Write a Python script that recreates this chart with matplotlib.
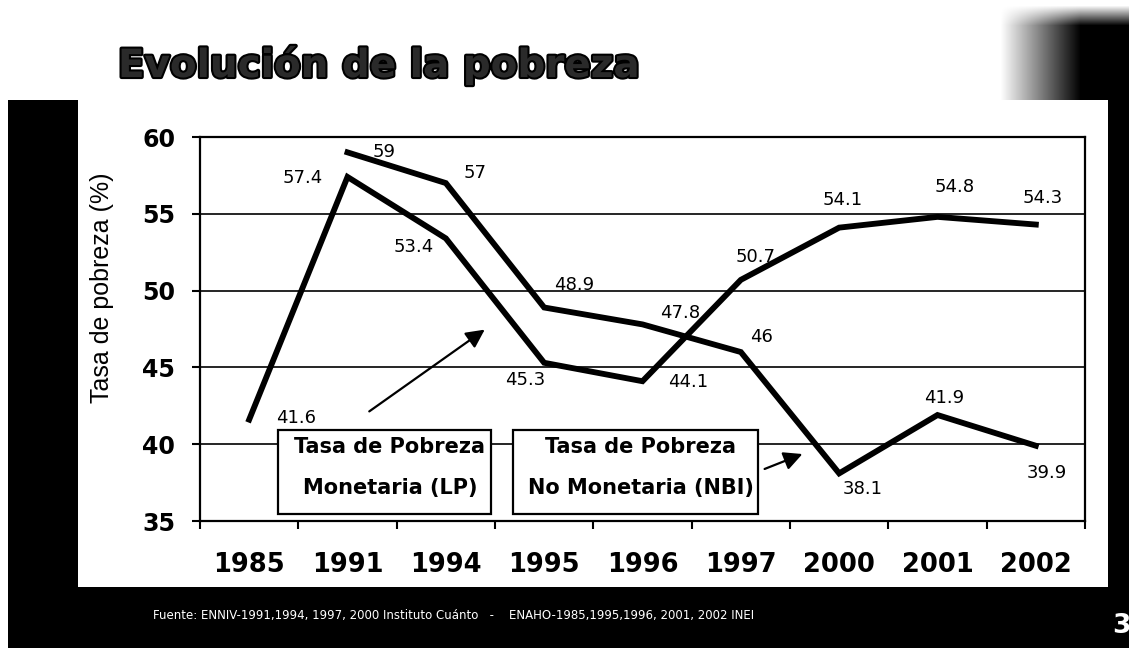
import matplotlib.pyplot as plt
import matplotlib.patheffects as pe
from matplotlib.patches import Rectangle
import numpy as np

# Data
years = ["1985", "1991", "1994", "1995", "1996", "1997", "2000", "2001", "2002"]
pobreza_lp = [41.6, 57.4, 53.4, 45.3, 44.1, 50.7, 54.1, 54.8, 54.3]
pobreza_nbi = [np.nan, 59, 57, 48.9, 47.8, 46, 38.1, 41.9, 39.9]
labels_lp = ["41.6", "57.4", "53.4", "45.3", "44.1", "50.7", "54.1", "54.8", "54.3"]
labels_nbi = ["", "59", "57", "48.9", "47.8", "46", "38.1", "41.9", "39.9"]

# label offsets (pixels)
off_lp = [(47, 2), (-45, -1), (-32, -9), (-19, -17), (46, -1), (15, 23), (3, 28), (17, 30), (7, 27)]
off_nbi = [None, (37, 0), (29, 10), (30, 22), (38, 11), (21, 15), (24, -16), (7, 17), (11, -27)]

W, H = 1129, 648
fig = plt.figure(figsize=(W / 100, H / 100), dpi=100)
fig.patch.set_facecolor("white")

# slide background: black panel with white inner area
fig.add_artist(Rectangle((8 / W, 0), 1 - 8 / W, 1 - 100 / H, transform=fig.transFigure,
                         facecolor="black", edgecolor="none", zorder=0))
fig.add_artist(Rectangle((78 / W, 1 - 587 / H), (1108 - 78) / W, (587 - 100) / H,
                         transform=fig.transFigure, facecolor="white", edgecolor="none", zorder=0))

# dark smudge at the top right
gx = np.clip((np.arange(139) - 10) / 80, 0, 1)
gy = np.clip((np.arange(100) - 5) / 20, 0, 1)
alpha = np.outer(gy, gx)
img = np.zeros((100, 139, 4))
img[..., 3] = alpha
sm = fig.add_axes([990 / W, 1 - 100 / H, 139 / W, 100 / H])
sm.imshow(img, aspect="auto", interpolation="nearest")
sm.axis("off")

# title
fig.text(118 / W, 1 - 77 / H, "Evolución de la pobreza", fontsize=28, fontweight="bold",
         family="DejaVu Sans", color="#2a2a2a", va="baseline",
         path_effects=[pe.withStroke(linewidth=3, foreground="black")])

ax = fig.add_axes([200 / W, 1 - 521 / H, 885 / W, 384 / H])
x = np.arange(len(years))

ax.plot(x, pobreza_lp, color="black", lw=4.2, solid_joinstyle="miter", zorder=4)
ax.plot(x, pobreza_nbi, color="black", lw=4.2, solid_joinstyle="miter", zorder=4)

for i in range(len(years)):
    ax.annotate(labels_lp[i], (x[i], pobreza_lp[i]), xytext=off_lp[i], textcoords="offset pixels",
                ha="center", va="center", fontsize=13, zorder=5)
    if labels_nbi[i]:
        ax.annotate(labels_nbi[i], (x[i], pobreza_nbi[i]), xytext=off_nbi[i],
                    textcoords="offset pixels", ha="center", va="center", fontsize=13, zorder=5)

ax.set_xlim(-0.5, len(years) - 0.5)
ax.set_ylim(35, 60)
ax.set_yticks([35, 40, 45, 50, 55, 60])
ax.yaxis.grid(True, color="black", lw=1.2)
ax.set_axisbelow(True)
ax.set_xticks(x)
ax.set_xticklabels(years, fontsize=18.5, fontweight="bold")
ax.set_xticks(np.arange(-0.5, len(years)), minor=True)
ax.tick_params(axis="x", which="major", length=0, pad=22)
ax.tick_params(axis="x", which="minor", length=6, width=1.5, direction="out")
ax.tick_params(axis="y", length=6, width=1.5, pad=12, labelsize=17)
for lab in ax.get_yticklabels():
    lab.set_fontweight("bold")
for s in ax.spines.values():
    s.set_linewidth(1.6)

ax.set_ylabel("Tasa de pobreza (%)", fontsize=18, family="Liberation Sans")
ax.yaxis.set_label_coords((114 - 200) / 885, (521 - 288) / 384)

# legend boxes
def fx(px):
    return (px - 200) / 885

def fy(py):
    return (521 - py) / 384

for x0, x1, l1, l2 in [(278, 491, "Tasa de Pobreza", "Monetaria (LP)"),
                       (513, 758, "Tasa de Pobreza", "No Monetaria (NBI)")]:
    ax.add_patch(Rectangle((fx(x0), fy(514)), fx(x1) - fx(x0), fy(430) - fy(514),
                           transform=ax.transAxes, facecolor="white", edgecolor="black",
                           lw=1.6, zorder=3))
    cx = (fx(x0) + fx(x1)) / 2 + 0.006
    ax.text(cx, fy(447), l1, transform=ax.transAxes, ha="center", va="center",
            fontsize=15, fontweight="bold", zorder=6)
    ax.text(cx, fy(488), l2, transform=ax.transAxes, ha="center", va="center",
            fontsize=15, fontweight="bold", zorder=6)

# arrows
arrow = dict(arrowstyle="-|>", color="black", lw=1.6, mutation_scale=28)
ax.annotate("", xy=(fx(487), fy(328)), xytext=(fx(367), fy(413)),
            xycoords="axes fraction", textcoords="axes fraction", arrowprops=arrow, zorder=6)
ax.annotate("", xy=(fx(805), fy(453)), xytext=(fx(762), fy(470)),
            xycoords="axes fraction", textcoords="axes fraction", arrowprops=arrow, zorder=6)

# footer
fig.text(153 / W, 1 - 615 / H,
         "Fuente: ENNIV-1991,1994, 1997, 2000 Instituto Cuánto   -    ENAHO-1985,1995,1996, 2001, 2002 INEI",
         color="white", fontsize=8.5, va="center")
fig.text(1112 / W, 1 - 626 / H, "3", color="white", fontsize=19, fontweight="bold", va="center")

fig.savefig("out.png", dpi=100, facecolor=fig.get_facecolor())
